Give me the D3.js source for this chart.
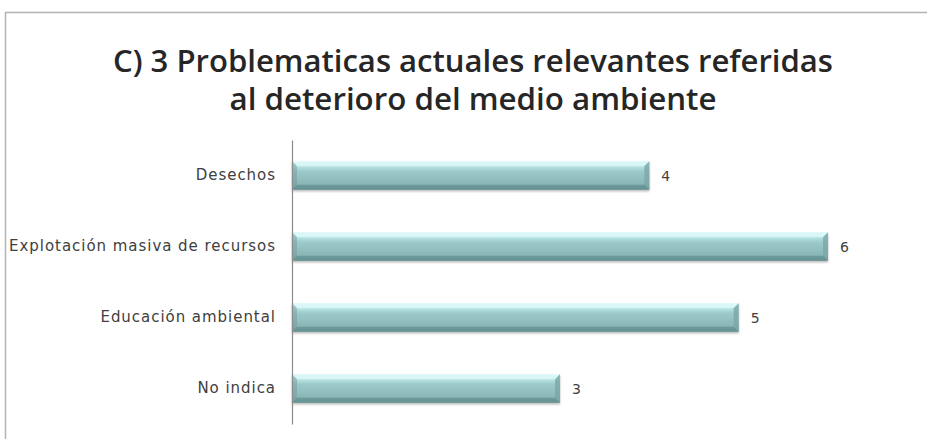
<!DOCTYPE html>
<html><head><meta charset="utf-8">
<script src="https://cdn.jsdelivr.net/npm/d3@7"></script>
<style>body{margin:0;background:#fff}svg{display:block}</style>
</head><body>
<svg id="c" width="927" height="439"></svg>
<script>
const titleLines = ["C) 3 Problematicas actuales relevantes referidas", "al deterioro del medio ambiente"];
const categories = ["Desechos", "Explotación masiva de recursos", "Educación ambiental", "No indica"];
const values = [4, 6, 5, 3];

const svg = d3.select("#c");
const W = 927, H = 439;
const m = {left: 292, top: 140, right: 99, bottom: 15};

svg.append("path").attr("d", `M5.5,${H} L5.5,12.5 L${W},12.5`).attr("fill","none").attr("stroke","#b4b4b4").attr("stroke-width",1.5);

const tw = [720, 487];
titleLines.forEach((t,i)=>{
  svg.append("text").attr("x", 473).attr("y", 72 + i*38).attr("text-anchor","middle")
    .attr("font-family","'Open Sans','Liberation Sans',sans-serif").attr("font-weight",600)
    .attr("font-size",30).attr("fill","#262626")
    .attr("textLength", tw[i]).attr("lengthAdjust","spacingAndGlyphs").text(t);
});

const x = d3.scaleLinear().domain([0, 6]).range([m.left, 828]);
const y = d3.scaleBand().domain(categories).range([m.top, H - m.bottom]).paddingInner(0.6).paddingOuter(0.3);

const defs = svg.append("defs");
const g = defs.append("linearGradient").attr("id","bar").attr("x1",0).attr("y1",0).attr("x2",0).attr("y2",1);
[[0,"#d2f3f3"],[0.18,"#b8e3e3"],[0.35,"#9ccaca"],[0.8,"#8ab6b6"],[1,"#6e9b9b"]].forEach(([o,c])=>g.append("stop").attr("offset",o).attr("stop-color",c));
const f = defs.append("filter").attr("id","sh").attr("x","-5%").attr("y","-30%").attr("width","110%").attr("height","170%");
f.append("feDropShadow").attr("dx",0).attr("dy",1.5).attr("stdDeviation",1.2).attr("flood-color","#000").attr("flood-opacity",0.3);

const bars = svg.append("g");
categories.forEach((c,i)=>{
  const x0 = x(0), x1 = x(values[i]), y0 = y(c), h = y.bandwidth();
  const gg = bars.append("g");
  gg.append("rect").attr("x",x0).attr("y",y0).attr("width",x1-x0).attr("height",h).attr("fill","url(#bar)").attr("filter","url(#sh)");
  const b = 5;
  gg.append("path").attr("d",`M${x0},${y0} L${x1},${y0} L${x1-b},${y0+b} L${x0+b},${y0+b} Z`).attr("fill","#e2fbfb").attr("opacity",0.7);
  gg.append("path").attr("d",`M${x1},${y0} L${x1},${y0+h} L${x1-b},${y0+h-b} L${x1-b},${y0+b} Z`).attr("fill","#7aa6a6").attr("opacity",0.8);
  gg.append("path").attr("d",`M${x0},${y0+h} L${x1},${y0+h} L${x1-b},${y0+h-b} L${x0+b},${y0+h-b} Z`).attr("fill","#5e8a8a").attr("opacity",0.6);
  gg.append("path").attr("d",`M${x0},${y0} L${x0+b},${y0+b} L${x0+b},${y0+h-b} L${x0},${y0+h} Z`).attr("fill","#6f9c9c").attr("opacity",0.5);
  svg.append("text").attr("x", x1 + 12).attr("y", y0 + h/2).attr("dy","0.36em")
    .style("font-family","'DejaVu Sans',Verdana,sans-serif").style("font-size","14px").attr("fill","#404040").text(values[i]);
});

const ax = svg.append("g").attr("transform",`translate(${m.left},0)`).call(d3.axisLeft(y).tickSize(0).tickPadding(16));
ax.attr("font-size",null).attr("font-family",null);
ax.select(".domain").attr("stroke","#8c8c8c").attr("stroke-width",1.2);
ax.selectAll("text").style("font-family","'DejaVu Sans',Verdana,sans-serif").style("font-size","15px").attr("fill","#404040");
const lab = ax.selectAll("text").filter(d=>d===categories[1]).node();
const w = lab.getComputedTextLength();
const ls = Math.min(1.0, Math.max(0,(266 - w)/(categories[1].length-1)));
ax.selectAll("text").style("letter-spacing", ls + "px");
</script>
</body></html>
